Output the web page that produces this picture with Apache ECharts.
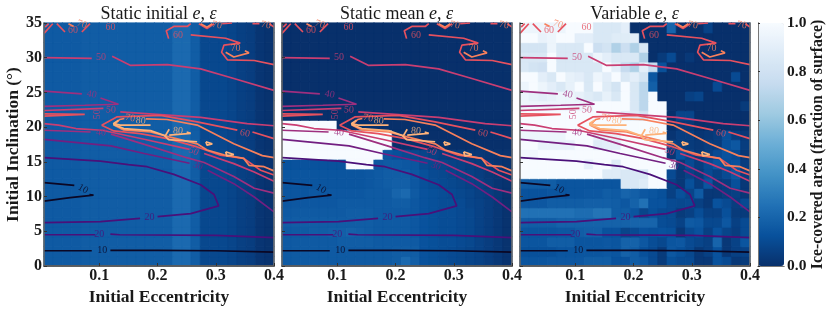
<!DOCTYPE html>
<html><head><meta charset="utf-8">
<style>html,body{margin:0;padding:0;background:#fff}#c{width:830px;height:310px}</style>
<script src="https://cdn.jsdelivr.net/npm/echarts@6/dist/echarts.min.js"></script>
</head><body><div id="c"></div>
<script>
const xTicks=[0.1,0.2,0.3,0.4];
const titles=['Static initial ','Static mean ','Variable '];
// ice fraction, panel 1: depends on column only
const iceStaticInitial=[.16,.16,.16,.16,.17,.17,.17,.17,.17,.17,.17,.17,.17,.17,.22,.22,.17,.09,.09,.09,.08,.06,.05,.02,.01];
// panel 2, row 0 (bottom) upward
const iceStaticMean=[
[.16,.16,.16,.16,.16,.16,.16,.16,.16,.16,.16,.16,.17,.22,.18,.13,.12,.11,.1,.09,.08,.07,.05,.03,.01],
[.16,.16,.16,.16,.16,.16,.16,.16,.16,.16,.16,.16,.17,.17,.17,.13,.12,.11,.1,.09,.08,.07,.05,.03,.01],
[.16,.16,.16,.16,.16,.16,.17,.17,.17,.17,.16,.16,.16,.16,.16,.13,.12,.11,.11,.1,.09,.07,.05,.03,.01],
[.16,.16,.16,.17,.17,.18,.18,.19,.18,.17,.16,.16,.16,.16,.15,.13,.12,.11,.11,.1,.09,.07,.05,.03,.01],
[.17,.17,.17,.17,.17,.17,.17,.17,.17,.17,.16,.16,.16,.16,.15,.13,.12,.11,.11,.1,.09,.07,.05,.03,.01],
[.16,.16,.16,.16,.16,.16,.16,.17,.17,.17,.16,.16,.16,.16,.15,.13,.12,.11,.11,.1,.09,.07,.05,.03,.01],
[.15,.15,.15,.15,.15,.15,.16,.16,.16,.16,.16,.16,.17,.17,.15,.13,.12,.11,.11,.1,.08,.07,.05,.03,.01],
[.14,.14,.14,.15,.15,.15,.15,.15,.15,.16,.16,.16,.2,.22,.16,.13,.12,.11,.1,.09,.08,.06,.05,.03,.01],
[.14,.14,.14,.14,.14,.14,.14,.14,.14,.15,.16,.17,.18,.18,.15,.12,.11,.1,.09,.08,.07,.06,.04,.02,.01],
[.14,.14,.14,.14,.14,.14,.14,.14,.14,.15,.16,.17,.17,.17,.15,.12,.1,.09,.08,.07,.06,.05,.03,.02,.01],
[.13,.13,.13,.13,.13,.13,.13,1,1,1,.15,.16,.16,.15,.14,.1,.09,.08,.07,.06,.05,.04,.03,.02,.01],
[1,1,1,1,1,1,1,1,1,1,1,.14,.12,.1,.09,.08,.07,.05,.04,.04,.03,.03,.02,.01,.01],
[1,1,1,1,1,1,1,1,1,1,1,1,0,0,0,0,0,0,0,0,0,0,0,0,0],
[1,1,1,1,1,1,1,1,1,1,1,1,0,0,0,0,0,0,0,0,0,0,0,0,0],
[1,1,1,1,1,1,0,0,0,0,0,0,0,0,0,0,0,0,0,0,0,0,0,0,0],
[0,0,0,0,0,0,0,0,0,0,0,0,0,0,0,0,0,0,0,0,0,0,0,0,0],
[0,0,0,0,0,0,0,0,0,0,0,0,0,0,0,0,0,0,0,0,0,0,0,0,0],
[0,0,0,0,0,0,0,0,0,0,0,0,0,0,0,0,0,0,0,0,0,0,0,0,0],
[0,0,0,0,0,0,0,0,0,0,0,0,0,0,0,0,0,0,0,0,0,0,0,0,0],
[0,0,0,0,0,0,0,0,0,0,0,0,0,0,0,0,0,0,0,0,0,0,0,0,0],
[0,0,0,0,0,0,0,0,0,0,0,0,0,0,0,0,0,0,0,0,0,0,0,0,0],
[0,0,0,0,0,0,0,0,0,0,0,0,0,0,0,0,0,0,0,0,0,0,0,0,0],
[0,0,0,0,0,0,0,0,0,0,0,0,0,0,0,0,0,0,0,0,0,0,0,0,0],
[0,0,0,0,0,0,0,0,0,0,0,0,0,0,0,0,0,0,0,0,0,0,0,0,0],
[0,0,0,0,0,0,0,0,0,0,0,0,0,0,0,0,0,0,0,0,0,0,0,0,0]];
// panel 3, row 0 (bottom) upward
const iceVariable=[
[.14,.14,.14,.15,.15,.15,.15,.17,.17,.17,.13,.13,.17,.15,.1,.04,.12,.1,.1,.03,.03,.13,.1,.03,.04],
[.12,.12,.12,.12,.14,.14,.14,.14,.14,.15,.14,.19,.17,.12,.1,.04,.15,.12,.09,.03,.06,.13,.03,.06,.07],
[.14,.14,.14,.17,.17,.17,.14,.14,.14,.15,.14,.19,.19,.15,.11,.09,.14,.15,.1,.08,.06,.2,.03,.07,.14],
[.14,.14,.14,.14,.15,.15,.17,.18,.18,.13,.13,.08,.1,.13,.12,.13,.12,.03,.1,.13,.06,.13,.08,.05,.1],
[.17,.17,.17,.17,.19,.19,.19,.19,.19,.19,.19,.19,.2,.2,.2,.11,.1,.07,.16,.15,.09,.09,.15,.06,.1],
[.25,.25,.25,.25,.25,.25,.23,.23,.26,.26,.17,.17,.14,.08,.12,.1,.1,.04,.06,.11,.06,.06,.12,.04,.04],
[.15,.15,.15,.17,.17,.17,.17,.18,.18,.18,.17,.15,.19,.25,.13,.13,.1,.09,.1,.06,.03,.13,.1,.05,.1],
[.13,.13,.13,.14,.14,.14,.14,.15,.15,.17,.16,.2,.18,.15,.14,.12,.06,.12,.08,.16,.03,.03,.05,.06,.03],
[.17,.17,.17,.17,.14,.14,.14,.14,.14,.14,.14,.85,.85,.88,1,1,.07,.03,.12,.05,.14,.04,.05,.12,.03],
[1,1,1,1,1,1,1,1,1,.88,.88,.85,.85,.85,1,1,.1,.03,.07,.04,.1,.06,.1,.15,.05],
[1,1,1,1,1,1,1,.92,1,1,.88,1,1,1,1,1,1,.04,.1,.05,.1,.14,.12,.13,.05],
[.97,.97,1,1,1,1,1,1,1,1,1,1,1,1,1,1,.03,.13,.08,.03,.06,.1,.13,.1,.03],
[1,1,.93,.93,.93,.93,1,1,.88,.9,.9,1,1,1,1,1,.08,.05,.04,.03,.05,.04,.12,.15,.05],
[.95,.95,.95,.95,.95,1,1,1,.92,.92,.92,1,1,1,1,1,.02,.05,.05,.02,.03,.05,.12,.05,.03],
[1,1,1,1,1,1,1,1,1,1,1,1,1,1,1,1,0,.03,.03,0,0,0,0,0,0],
[1,1,1,1,1,1,1,1,1,1,1,.9,.88,.82,1,1,0,.08,.08,0,0,0,0,0,0],
[.95,.95,.95,.95,.95,.95,.95,.95,1,1,1,1,.85,.72,1,1,0,0,0,0,0,0,0,0,.04],
[.95,.92,.9,.92,.95,.95,.92,.88,.85,.92,.85,1,.85,.72,1,0,0,0,.06,.08,0,0,0,0,0],
[.95,1,.95,.9,.85,.92,1,.85,1,.88,.82,1,.85,.72,.18,0,0,0,0,0,0,.1,0,0,0],
[1,1,.9,.85,1,.92,.9,.85,.95,.9,1,.85,.9,.82,.15,0,0,0,0,0,0,0,0,.1,0],
[.85,.82,.8,1,.85,.85,.85,.85,.85,1,.9,.75,.68,.9,.75,.12,0,0,0,0,0,0,0,0,0],
[.85,.85,.85,1,.85,.85,.85,.85,.95,.9,.85,.85,.85,.68,0,.04,.1,0,.03,0,0,0,0,0,0],
[.82,.82,.82,.95,.85,.85,.85,1,.78,.82,.68,.78,.68,.85,0,0,0,0,0,0,0,0,0,0,0],
[1,1,.93,.95,1,1,.9,.9,.85,.85,.88,.88,.9,0,0,0,0,0,0,0,0,0,0,0,0],
[.95,.95,.95,.95,.95,1,1,1,.85,.85,.85,.9,0,0,0,0,.2,0,0,0,.07,0,0,0,0]];
// contour polylines, [eccentricity, inclination]
const contour10=[
[[.005,2.2],[.087,2.2]],[[.119,2.25],[.2,2.25],[.3,2.2],[.4,2.0]],
[[.005,12],[.057,11.6]],[[.005,9.35],[.05,9.85],[.09,10.2],[.083,10.3]]];
const contour20=[
[[.005,4.5],[.093,4.5]],[[.119,4.6],[.135,4.5],[.3,4.4],[.4,4.1]],
[[.005,6.25],[.102,6.4],[.17,6.85]],[[.2,7.1],[.257,7.54],[.305,8.65],[.297,10.3],[.274,11.7],[.228,13.2],[.182,14.3],[.15,14.6],[.102,15.1],[.005,15.6]]];
const contour30=[
[[.005,18.25],[.12,17.3],[.177,16.2],[.255,14.8]],[[.286,13.8],[.331,11.86],[.366,9.94],[.4,7.8]]];
const contour40=[
[[.005,25.2],[.07,24.8]],[[.102,24.2],[.133,23.3],[.075,23.15],[.005,23]],
[[.005,19.55],[.085,19.3]],[[.12,19],[.19,17.2],[.25,15.6],[.28,14.9],[.331,12.9],[.366,11.2],[.4,10.5]]];
const contour50=[
[[.005,30],[.087,29.9]],[[.122,30.2],[.153,28.9],[.217,29],[.274,28.4],[.331,27],[.4,25.3]],
[[.005,22.4],[.107,22.7]],[[.136,22.2],[.274,21.4],[.354,20.5],[.4,20.2]],
[[.005,20.5],[.03,20.3],[.06,19.8],[.105,19.55],[.177,18.25],[.255,16.8]],[[.28,16.2],[.331,14.75],[.366,13.55],[.4,12.2]]];
const contour60=[
[[.005,21.9],[.075,21.85],[.075,21.65],[.005,21.6]],
[[.104,20.27],[.13,21.47],[.205,21.7],[.268,20.75],[.337,19.56]],[[.363,19.3],[.4,18.35]],
[[.104,20.27],[.125,19.45],[.17,19.07],[.217,18.35],[.268,17.15],[.308,15.95],[.348,15.5],[.377,13.8],[.4,13.1]],
[[.219,32.75],[.215,33.9],[.228,34.5],[.251,34.5],[.257,34.9]],
[[.257,33.3],[.317,32.8],[.342,32.1],[.314,31.8],[.31,30.8],[.32,29.7],[.366,29.6],[.4,29]],
[[.005,33.5],[.02,34.9]],[[.007,34.4],[.013,34.9]],[[.027,34.9],[.041,33.7]],[[.07,33.7],[.084,34.9]],
[[.271,34.9],[.285,34.2],[.297,34.9]],[[.311,34.9],[.328,35]],[[.363,34.9],[.375,34.9]],[[.392,34.9],[.4,34.4]]];
const contour70=[
[[.125,20.3],[.135,21.1],[.143,21.25]],[[.18,21.2],[.216,21.1],[.268,20.3],[.331,17.6],[.38,15.9],[.4,15.6]],
[[.125,20.3],[.142,19.6],[.188,19.3],[.22,18.6],[.268,17.6],[.285,16.7],[.314,16],[.348,15.5],[.357,14.5],[.383,14.3],[.4,13.7]],
[[.317,30.8],[.331,30.1],[.357,30.7],[.35,31]],[[.047,34.9],[.056,34.5]],[[.274,34.9],[.285,34.4],[.294,34.9]]];
const contour80=[
[[.188,20.3],[.136,20.3],[.124,20.5],[.133,21]],
[[.124,20.4],[.142,19.8],[.188,19.5],[.211,18.84],[.219,18.2],[.268,17.9]],
[[.213,18.7],[.22,19.7]],[[.22,18.85],[.257,19.1],[.25,19.3]],
[[.283,17.9],[.294,17.6],[.285,17.4],[.283,17.9]],[[.317,16.45],[.331,16.05],[.319,15.85],[.317,16.45]]];
const contourLevels=[contour10,contour20,contour30,contour40,contour50,contour60,contour70,contour80];
const levelColors=['#0b0724','#4a1079','#721f81','#9e2f7f','#c93e72','#e6515f','#f8805c','#fdb27a'];
// contour labels: eccentricity, inclination, text, rotation, level index
const contourLabels=[
[.105,2.25,'10',0,0],[.072,11.1,'10',-30,0],[.1,4.5,'20',0,1],[.186,7,'20',0,1],[.269,14.4,'30',-20,2],
[.087,24.7,'40',-10,3],[.103,19.2,'40',-5,3],[.103,30,'50',0,4],[.12,22.5,'50',-3,4],[.097,21.85,'50',90,4],[.262,16.5,'50',-25,4],
[.055,33.9,'60',0,5],[.119,34.3,'60',0,5],[.235,33.2,'60',0,5],[.35,19.1,'60',-10,5],
[.07,34.8,'70',-20,6],[.302,34.7,'70',-10,6],[.386,34.7,'70',-10,6],[.334,31.4,'70',0,6],[.153,21.3,'70',-10,6],
[.171,20.9,'80',-5,7],[.235,19.45,'80',-5,7]];
const bluesRamp=[[8,48,107],[8,81,156],[33,113,181],[66,146,198],[107,174,214],[158,202,225],[198,219,239],[222,235,247],[247,251,255]];

const panelLeft=[44,282,520],W=230,TOP=23,H=243,N=25;
const font='"Liberation Serif",serif',ink='#1a1a1a',spine='#777';
const cats=Array.from({length:N},(_,i)=>String(i));
const grids=[],xAxes=[],yAxes=[],series=[],ttl=[];
function cell(p,c,r){return p===0?iceStaticInitial[c]:p===1?iceStaticMean[r][c]:iceVariable[r][c];}
function blues(v){const t=Math.min(v,.9999)*8,i=Math.floor(t),f=t-i,a=bluesRamp[i],b=bluesRamp[i+1];
  return 'rgb('+a.map((x,k)=>Math.round(x+(b[k]-x)*f)).join(',')+')';}
panelLeft.forEach((left,p)=>{
  grids.push({left,top:TOP,width:W,height:H,outerBoundsMode:'none',containLabel:false});
  xAxes.push({gridIndex:p,type:'category',data:cats,position:'top',z:10,axisLine:{lineStyle:{color:spine,width:1.5}},axisTick:{show:false},axisLabel:{show:false}});
  yAxes.push({gridIndex:p,type:'category',data:cats,position:'right',z:10,axisLine:{lineStyle:{color:spine,width:1.5}},axisTick:{show:false},axisLabel:{show:false}});
  xAxes.push({gridIndex:p,type:'value',min:.005,max:.4,position:'bottom',z:10,splitLine:{show:false},
    name:'Initial Eccentricity',nameLocation:'middle',nameGap:19,nameTextStyle:{fontFamily:font,fontWeight:'bold',fontSize:17.5,color:ink},
    axisLine:{lineStyle:{color:'#555',width:1.5}},axisTick:{inside:true,length:3,lineStyle:{color:'#333'},customValues:xTicks},
    axisLabel:{customValues:xTicks,fontFamily:font,fontWeight:'bold',fontSize:16,color:ink,margin:2,formatter:v=>v.toFixed(1)}});
  yAxes.push({gridIndex:p,type:'value',min:0,max:35,interval:5,position:'left',z:10,splitLine:{show:false},
    name:p===0?'Initial Inclination (°)':'',nameLocation:'middle',nameGap:22,nameTextStyle:{fontFamily:font,fontWeight:'bold',fontSize:17.5,color:ink},
    axisLine:{lineStyle:{color:'#666',width:1.5}},axisTick:{inside:true,length:3,lineStyle:{color:'#333'}},
    axisLabel:{show:p===0,fontFamily:font,fontWeight:'bold',fontSize:16,color:ink,margin:2}});
  const d=[];
  for(let r=0;r<N;r++)for(let c=0;c<N;c++){const v=cell(p,c,r),col=blues(v);
    d.push({value:[c,r,v],itemStyle:{color:col,borderColor:col,borderWidth:.6}});}
  series.push({type:'heatmap',xAxisIndex:2*p,yAxisIndex:2*p,data:d,progressive:0,silent:true,z:1});
  contourLevels.forEach((lines,li)=>lines.forEach(pts=>series.push({type:'line',xAxisIndex:2*p+1,yAxisIndex:2*p+1,data:pts,symbol:'none',silent:true,z:3,
    lineStyle:{color:levelColors[li],width:1.7}})));
  series.push({type:'scatter',xAxisIndex:2*p+1,yAxisIndex:2*p+1,symbolSize:0,silent:true,z:4,
    data:contourLabels.map(l=>({value:[l[0],l[1]],label:{show:true,position:'inside',formatter:l[2],rotate:l[3],color:levelColors[l[4]],fontFamily:font,fontSize:10}}))});
  ttl.push({text:'{a|'+titles[p]+'}{b|e}{a|, }{b|ε}',left:left+W/2-5.5,top:0,textAlign:'center',
    textStyle:{fontWeight:'normal',rich:{a:{fontFamily:font,fontSize:18,fontWeight:'normal',color:ink},b:{fontFamily:font,fontSize:18,fontWeight:'normal',fontStyle:'italic',color:ink}}}});
});
// colour bar: frame and tick axis around the visual map
grids.push({left:758,top:TOP,width:26,height:H,outerBoundsMode:'none',containLabel:false});
const barLine={show:true,lineStyle:{color:spine,width:1}};
const barOff={axisTick:{show:false},axisLabel:{show:false},splitLine:{show:false}};
xAxes.push({gridIndex:3,type:'value',min:0,max:1,position:'bottom',z:10,axisLine:barLine,...barOff});
xAxes.push({gridIndex:3,type:'value',min:0,max:1,position:'top',z:10,axisLine:barLine,...barOff});
yAxes.push({gridIndex:3,type:'value',min:0,max:1,interval:.2,position:'right',z:10,splitLine:{show:false},
  name:'Ice-covered area (fraction of surface)',nameLocation:'middle',nameRotate:90,nameGap:22,nameTextStyle:{fontFamily:font,fontWeight:'bold',fontSize:15.8,color:ink},
  axisLine:{lineStyle:{color:spine,width:1}},axisTick:{length:2,lineStyle:{color:'#333'}},
  axisLabel:{fontFamily:font,fontWeight:'bold',fontSize:15.5,color:ink,margin:3,formatter:v=>v.toFixed(1)}});
yAxes.push({gridIndex:3,type:'value',min:0,max:1,position:'left',z:10,axisLine:barLine,...barOff});
const chart=echarts.init(document.getElementById('c'),null,{renderer:'canvas'});
chart.setOption({animation:false,backgroundColor:'#fff',title:ttl,grid:grids,xAxis:xAxes,yAxis:yAxes,series,
  visualMap:{type:'continuous',min:0,max:1,seriesIndex:[],calculable:false,hoverLink:false,
    left:758,top:TOP,itemWidth:26,itemHeight:H,padding:0,text:null,showLabel:false,
    inRange:{color:['#08306b','#08519c','#2171b5','#4292c6','#6baed6','#9ecae1','#c6dbef','#deebf7','#f7fbff']}}});
</script></body></html>
